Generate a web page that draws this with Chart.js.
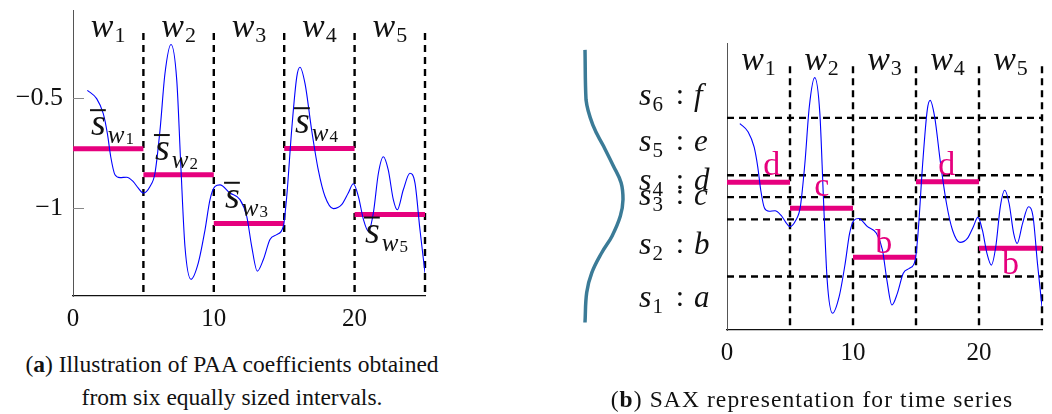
<!DOCTYPE html>
<html>
<head>
<meta charset="utf-8">
<script src="https://cdn.jsdelivr.net/npm/chart.js@4.4.1/dist/chart.umd.min.js"></script>
<style>
  html, body { margin:0; padding:0; background:#fff; }
  body { width:1052px; height:414px; position:relative; overflow:hidden; }
  canvas { position:absolute; }
  .cap { position:absolute; text-align:center; font-family:'Liberation Serif','DejaVu Serif',serif; font-size:23.5px; line-height:33px; color:#111; white-space:nowrap; }
</style>
</head>
<body>
<div id="wa" style="position:absolute;left:0;top:0;width:440px;height:340px;"><canvas id="chartA"></canvas></div>
<div id="wg" style="position:absolute;left:570px;top:0;width:70px;height:414px;"><canvas id="chartG"></canvas></div>
<div id="wb" style="position:absolute;left:630px;top:0;width:422px;height:370px;"><canvas id="chartB"></canvas></div>
<div class="cap" style="left:0;width:464px;top:348px;">(<b>a</b>) Illustration of PAA coefficients obtained<br>from six equally sized intervals.</div>
<div class="cap" style="left:512px;width:600px;top:383px;letter-spacing:1.1px;">(<b>b</b>) SAX representation for time series</div>
<script>
// ---------------- data ----------------
const timeX = [1.02,1.68,2.15,2.44,2.68,2.98,3.34,3.81,4.28,4.64,4.99,5.47,5.82,6.18,6.53,6.96,7.37,7.65,7.95,8.38,8.90,9.38,9.73,10.09,10.44,11.15,11.86,12.34,12.69,13.09,13.52,13.99,14.47,14.94,15.18,15.53,15.89,16.12,16.48,16.95,17.42,17.90,18.49,19.08,19.55,19.91,20.27,20.63,20.98,21.33,21.69,22.04,22.39,22.75,23.03,23.46,23.93,24.29,24.64,25.0];
const seriesY = [-0.465,-0.503,-0.571,-0.661,-0.767,-0.849,-0.862,-0.860,-0.880,-0.910,-0.932,-0.902,-0.842,-0.646,-0.390,-0.257,-0.420,-0.797,-1.174,-1.324,-1.249,-1.098,-0.962,-0.902,-0.895,-0.932,-0.962,-1.038,-1.174,-1.287,-1.234,-1.143,-1.121,-1.083,-0.948,-0.646,-0.405,-0.360,-0.435,-0.646,-0.827,-0.948,-1.003,-0.985,-0.932,-0.890,-0.948,-1.053,-1.106,-1.023,-0.842,-0.767,-0.827,-0.962,-1.008,-0.917,-0.842,-0.887,-1.098,-1.294];
const windowEdges = [0,5,10,15,20,25];
const windowNames = ['1','2','3','4','5'];
const paaValues = [-0.731,-0.849,-1.071,-0.729,-1.030];
const saxSymbols = ['d','c','b','d','b'];
const breakpoints = [-1.158,-0.899,-0.798,-0.699,-0.439];
const alphabet = ['a','b','c','d','e','f'];
const xTickLabelsValues = [0,10,20];
const yTickValuesA = [-1,-0.5];
const yTickLabelsA = ['\u22121','\u22120.5'];
const gaussDensity = [0,0.027,0.22,0.49,0.75,0.95,1.0,0.93,0.71,0.44,0.18,0.045,0];
const gaussValue = [-0.131,-0.357,-0.477,-0.568,-0.658,-0.733,-0.809,-0.884,-0.975,-1.05,-1.14,-1.23,-1.366];

// ---------------- annotation anchors (data coords) ----------------
const Y_MIN = -1.4, Y_MAX = -0.1, X_MIN = 0, X_MAX = 25;
const DASH_TOP = -0.205;
const W_LABEL_V = -0.224;
const sbarAnchors = [[1.28,-0.669],[5.82,-0.782],[10.8,-0.999],[15.77,-0.66],[20.74,-1.157]];
const letterAnchors = [[3.56,-0.699],[7.52,-0.794],[12.45,-1.05],[17.44,-0.699],[22.5,-1.148]];
const symbolLabelV = [-1.294,-1.057,-0.835,-0.767,-0.590,-0.379];

const SERIF = "'Liberation Serif','DejaVu Serif',serif";
const PINK = '#e6007e';
const BLUE = '#0000ff';

function mathRun(ctx, x, y, parts, align) {
  let w = 0;
  parts.forEach(p => { ctx.font = p.font; p.w = ctx.measureText(p.text).width; w += p.w + (p.dx || 0); });
  let cx = align === 'center' ? x - w / 2 : (align === 'right' ? x - w : x);
  parts.forEach(p => {
    ctx.font = p.font; ctx.fillStyle = p.color || '#111';
    ctx.fillText(p.text, cx + (p.dx || 0), y + (p.dy || 0));
    p.x0 = cx + (p.dx || 0);
    cx += p.w + (p.dx || 0);
  });
  return parts;
}

function windowLabels(ctx, xs, ys) {
  for (let i = 0; i < windowNames.length; i++) {
    const cx = xs.getPixelForValue((windowEdges[i] + windowEdges[i + 1]) / 2);
    mathRun(ctx, cx, ys.getPixelForValue(W_LABEL_V), [
      {text:'w', font:'italic 34px ' + SERIF},
      {text:windowNames[i], font:'22px ' + SERIF, dy:5, dx:1}
    ], 'center');
  }
}

function baseDatasets() {
  const ds = [];
  ds.push({ data: timeX.map((x, i) => ({x, y: seriesY[i]})), showLine:true, borderColor:BLUE, borderWidth:1.1,
            pointRadius:0, cubicInterpolationMode:'monotone', order:0 });
  paaValues.forEach((v, i) => ds.push({ data:[{x:windowEdges[i], y:v},{x:windowEdges[i+1], y:v}], showLine:true,
            borderColor:PINK, borderWidth:5, pointRadius:0, order:1, borderCapStyle:'butt' }));
  windowEdges.slice(1).forEach(e => ds.push({ data:[{x:e, y:DASH_TOP},{x:e, y:Y_MIN}], showLine:true,
            borderColor:'#000', borderWidth:2.4, borderDash:[7,5], pointRadius:0, order:2, clip:false }));
  return ds;
}

function xScale(pad) {
  return {
    type:'linear', min:X_MIN, max:X_MAX,
    afterBuildTicks: s => { s.ticks = xTickLabelsValues.map(v => ({value:v})); },
    afterFit: s => { s.height = pad; s.paddingLeft = 0; s.paddingRight = 0; },
    ticks:{ font:{family:SERIF, size:25}, color:'#111', padding:8, maxRotation:0 },
    grid:{ display:true, drawOnChartArea:false, drawTicks:false },
    border:{ display:true, color:'#111', width:1.3 }
  };
}

Chart.defaults.animation = false;
Chart.defaults.plugins.legend.display = false;
Chart.defaults.plugins.tooltip.enabled = false;
Chart.defaults.responsive = true;
Chart.defaults.maintainAspectRatio = false;

// ---------------- chart (a) ----------------
new Chart(document.getElementById('chartA'), {
  type:'scatter',
  data:{ datasets: baseDatasets() },
  options:{
    layout:{ padding:{ top:10, right:15, left:0, bottom:0 } },
    scales:{
      x: xScale(44),
      y: {
        type:'linear', min:Y_MIN, max:Y_MAX,
        afterBuildTicks: s => { s.ticks = yTickValuesA.map(v => ({value:v})); },
        afterFit: s => { s.width = 73; s.paddingTop = 0; s.paddingBottom = 0; },
        ticks:{ font:{family:SERIF, size:26}, color:'#111', padding:10,
                callback: v => { const i = yTickValuesA.indexOf(v); return i >= 0 ? yTickLabelsA[i] : ''; } },
        grid:{ display:true, drawOnChartArea:false, drawTicks:false },
        border:{ display:true, color:'#555', width:1 }
      }
    }
  },
  plugins:[{
    id:'annA',
    afterDatasetsDraw(chart) {
      const ctx = chart.ctx, xs = chart.scales.x, ys = chart.scales.y, a = chart.chartArea;
      ctx.save();
      ctx.strokeStyle = '#888'; ctx.lineWidth = 1;
      yTickValuesA.forEach(v => { const py = Math.round(ys.getPixelForValue(v)) + 0.5;
        ctx.beginPath(); ctx.moveTo(a.left, py); ctx.lineTo(a.left + 11, py); ctx.stroke(); });
      ctx.textBaseline = 'alphabetic';
      windowLabels(ctx, xs, ys);
      sbarAnchors.forEach((p, i) => {
        const px = xs.getPixelForValue(p[0]), py = ys.getPixelForValue(p[1]);
        const parts = mathRun(ctx, px, py, [
          {text:'s', font:'italic 38px ' + SERIF},
          {text:'w', font:'italic 25px ' + SERIF, dy:8, dx:2},
          {text:windowNames[i], font:'17px ' + SERIF, dy:9, dx:1}
        ], 'left');
        ctx.strokeStyle = '#111'; ctx.lineWidth = 2;
        ctx.beginPath(); ctx.moveTo(px - 1, py - 25); ctx.lineTo(px + parts[0].w, py - 25); ctx.stroke();
      });
      ctx.restore();
    }
  }]
});

// ---------------- gaussian (b, left side) ----------------
new Chart(document.getElementById('chartG'), {
  type:'scatter',
  data:{ datasets:[{ data: gaussDensity.map((d, i) => ({x:d, y:gaussValue[i]})), showLine:true,
        borderColor:'#3b7b97', borderWidth:3.5, pointRadius:0, tension:0.4, clip:false }] },
  options:{
    layout:{ padding:{ top:43, right:17, left:15, bottom:84 } },
    scales:{ x:{ type:'linear', min:0, max:1, display:false }, y:{ type:'linear', min:Y_MIN, max:Y_MAX, display:false } }
  }
});

// ---------------- chart (b) ----------------
const dsB = baseDatasets();
breakpoints.forEach(b => dsB.push({ data:[{x:X_MIN, y:b},{x:X_MAX, y:b}], showLine:true, borderColor:'#000',
      borderWidth:2.4, borderDash:[7,5], pointRadius:0, order:2, clip:false }));
new Chart(document.getElementById('chartB'), {
  type:'scatter',
  data:{ datasets: dsB },
  options:{
    layout:{ padding:{ top:43, right:10, left:0, bottom:0 } },
    scales:{
      x: xScale(40),
      y: {
        type:'linear', min:Y_MIN, max:Y_MAX,
        afterFit: s => { s.width = 97; s.paddingTop = 0; s.paddingBottom = 0; },
        ticks:{ display:false },
        grid:{ display:true, drawOnChartArea:false, drawTicks:false },
        border:{ display:true, color:'#555', width:1 }
      }
    }
  },
  plugins:[{
    id:'annB',
    afterDatasetsDraw(chart) {
      const ctx = chart.ctx, xs = chart.scales.x, ys = chart.scales.y, a = chart.chartArea;
      ctx.save();
      ctx.textBaseline = 'alphabetic';
      windowLabels(ctx, xs, ys);
      letterAnchors.forEach((p, i) => {
        ctx.font = '34px ' + SERIF; ctx.fillStyle = PINK; ctx.textAlign = 'center';
        ctx.fillText(saxSymbols[i], xs.getPixelForValue(p[0]), ys.getPixelForValue(p[1]));
      });
      ctx.textAlign = 'left';
      symbolLabelV.forEach((v, i) => {
        const py = ys.getPixelForValue(v);
        mathRun(ctx, a.left - 88, py, [
          {text:'s', font:'italic 32px ' + SERIF},
          {text:String(i + 1), font:'21px ' + SERIF, dy:6, dx:1}
        ], 'left');
        ctx.font = '30px ' + SERIF; ctx.fillStyle = '#111'; ctx.textAlign = 'center';
        ctx.fillText(':', a.left - 47, py - 1);
        ctx.textAlign = 'left'; ctx.font = 'italic 31px ' + SERIF;
        ctx.fillText(alphabet[i], a.left - 33, py);
      });
      ctx.restore();
    }
  }]
});
</script>
</body>
</html>
